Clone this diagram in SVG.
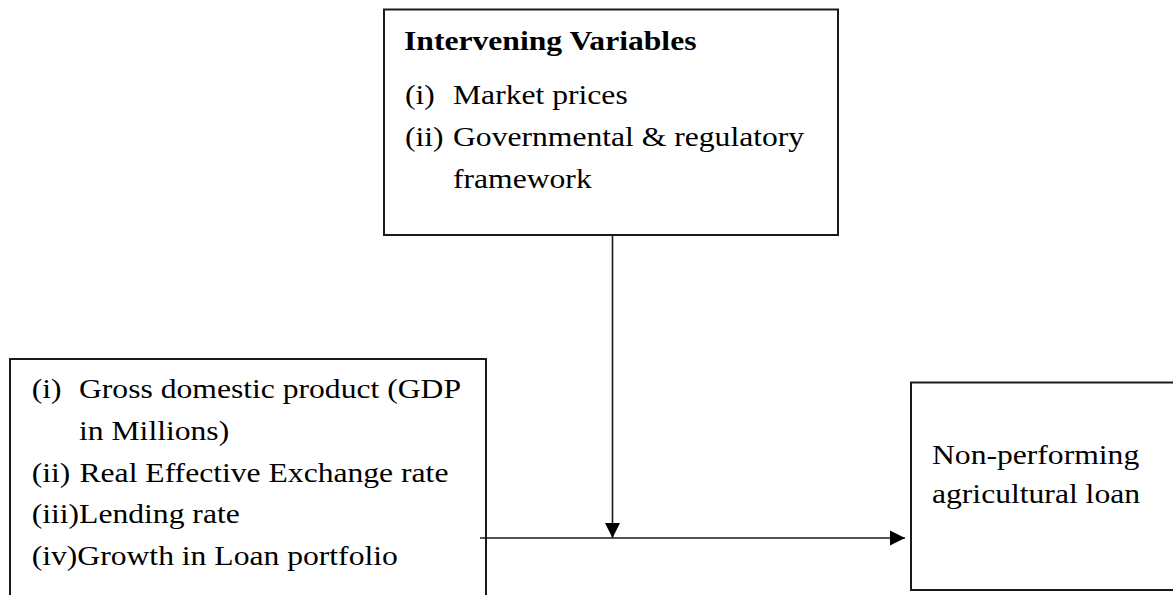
<svg xmlns="http://www.w3.org/2000/svg" width="1173" height="595" viewBox="0 0 1173 595">
<style>
  .box { fill: #ffffff; stroke: #1a1a1a; stroke-width: 2; }
  .t { font-family: "Liberation Serif", "Times New Roman", serif; font-size: 27.5px; fill: #000000; }
  .b { font-weight: bold; }
  .conn { stroke: #1a1a1a; stroke-width: 1.6; fill: none; }
</style>
<defs>
  <marker id="arrow" markerUnits="userSpaceOnUse" markerWidth="16" markerHeight="16" viewBox="0 0 16 16" refX="15" refY="8" orient="auto">
    <path d="M0,0.5 L15,8 L0,15.5 Z" fill="#000000"/>
  </marker>
</defs>
<rect width="1173" height="595" fill="#ffffff"/>

<g id="intervening">
  <rect class="box" x="384" y="9.5" width="454" height="225.5"/>
  <text class="t b" transform="translate(404,49.5) scale(1.15,1)">Intervening Variables</text>
  <text class="t" transform="translate(405,104.3) scale(1.15,1)">(i)</text>
  <text class="t" transform="translate(453,104.3) scale(1.15,1)">Market prices</text>
  <text class="t" transform="translate(405,146) scale(1.15,1)">(ii)</text>
  <text class="t" transform="translate(453,146) scale(1.15,1)">Governmental &amp; regulatory</text>
  <text class="t" transform="translate(453,187.5) scale(1.15,1)">framework</text>
</g>

<g id="independent">
  <rect class="box" x="10" y="359" width="476" height="250"/>
  <text class="t" transform="translate(31.7,397.5) scale(1.15,1)">(i)</text>
  <text class="t" transform="translate(79,397.5) scale(1.15,1)">Gross domestic product (GDP</text>
  <text class="t" transform="translate(79,439.5) scale(1.15,1)">in Millions)</text>
  <text class="t" transform="translate(31.7,481.5) scale(1.15,1)">(ii)</text>
  <text class="t" transform="translate(79.5,481.5) scale(1.15,1)">Real Effective Exchange rate</text>
  <text class="t" transform="translate(31.7,523.3) scale(1.15,1)">(iii)Lending rate</text>
  <text class="t" transform="translate(31.7,565) scale(1.15,1)">(iv)Growth in Loan portfolio</text>
</g>

<g id="dependent">
  <rect class="box" x="911" y="382.5" width="280" height="207.5"/>
  <text class="t" transform="translate(932,463.5) scale(1.15,1)">Non-performing</text>
  <text class="t" transform="translate(932,502.7) scale(1.15,1)">agricultural loan</text>
</g>

<g id="connectors">
  <line class="conn" x1="612.5" y1="235" x2="612.5" y2="538" marker-end="url(#arrow)"/>
  <line class="conn" x1="480" y1="538" x2="905" y2="538" marker-end="url(#arrow)"/>
</g>
</svg>
